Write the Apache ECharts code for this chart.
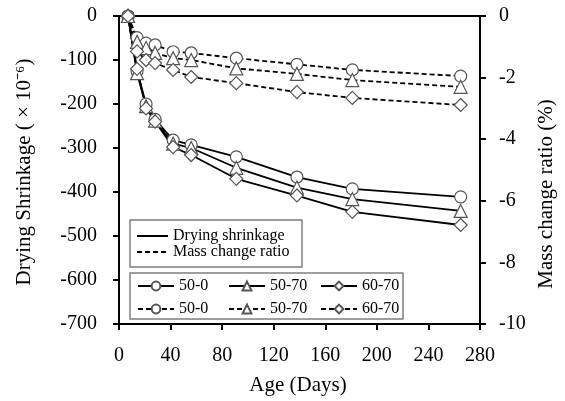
<!DOCTYPE html>
<html>
<head>
<meta charset="utf-8">
<script src="https://cdn.jsdelivr.net/npm/echarts@6/dist/echarts.min.js"></script>
<style>
  html, body { margin: 0; padding: 0; background: #fff; }
  #chart { width: 565px; height: 401px; }
</style>
</head>
<body>
<div id="chart"></div>
<script>
// Age at each measurement (days)
const days = [7, 14, 21, 28, 42, 56, 91, 138, 181, 265];

// Drying shrinkage (x10^-6)
const shrink_50_0  = [0, -125, -200, -235, -282, -293, -320, -366, -393, -411];
const shrink_50_70 = [0, -130, -205, -238, -290, -300, -345, -390, -416, -443];
const shrink_60_70 = [0, -120, -210, -240, -298, -316, -370, -408, -445, -475];

// Mass change ratio (%)
const mass_50_0  = [0, -0.70, -0.88, -0.94, -1.16, -1.20, -1.37, -1.57, -1.75, -1.95];
const mass_50_70 = [0, -0.84, -1.04, -1.20, -1.37, -1.43, -1.70, -1.88, -2.08, -2.30];
const mass_60_70 = [0, -1.15, -1.43, -1.53, -1.75, -1.98, -2.18, -2.47, -2.66, -2.89];

const mixLabels = ['50-0', '50-70', '60-70'];
const symbols = ['circle', 'triangle', 'diamond'];
const symbolSizes = [12, 13, 13];

const FONT = "'Liberation Serif', 'Times New Roman', serif";
const pairs = (ys) => days.map((d, i) => [d, ys[i]]);

const shrinkSets = [shrink_50_0, shrink_50_70, shrink_60_70];
const massSets = [mass_50_0, mass_50_70, mass_60_70];

const markerStyle = { color: '#fff', borderColor: '#555', borderWidth: 1.2 };

const series = [];
// Line-style key entries (no data points)
series.push({
  name: 'Drying shrinkage', type: 'line', data: [], symbol: 'none',
  lineStyle: { color: '#000', width: 2, type: 'solid' }
});
series.push({
  name: 'Mass change ratio', type: 'line', data: [], symbol: 'none',
  lineStyle: { color: '#000', width: 2, type: [5, 3] }
});
mixLabels.forEach((lab, k) => {
  series.push({
    name: 'S ' + lab, type: 'line', yAxisIndex: 0,
    data: pairs(shrinkSets[k]),
    symbol: symbols[k], symbolSize: symbolSizes[k],
    lineStyle: { color: '#000', width: 1.8 },
    itemStyle: markerStyle, z: 3
  });
});
mixLabels.forEach((lab, k) => {
  series.push({
    name: 'M ' + lab, type: 'line', yAxisIndex: 1,
    data: pairs(massSets[k]),
    symbol: symbols[k], symbolSize: symbolSizes[k],
    lineStyle: { color: '#000', width: 1.8, type: [5, 3] },
    itemStyle: markerStyle, z: 3
  });
});

const hidden = { color: 'rgba(0,0,0,0)', borderColor: 'rgba(0,0,0,0)' };
const legendText = { fontFamily: FONT, fontSize: 16, color: '#000' };
const stripTag = (n) => n.replace(/^[SM] /, '');

const legends = [
  {
    orient: 'vertical', left: 136, top: 228, padding: 0, itemGap: 0,
    itemWidth: 31, itemHeight: 11, textStyle: legendText,
    data: [
      { name: 'Drying shrinkage', itemStyle: hidden },
      { name: 'Mass change ratio', itemStyle: hidden }
    ]
  }
];
const colLeft = [137, 228, 320];
mixLabels.forEach((lab, k) => {
  legends.push({
    orient: 'vertical', left: colLeft[k], top: 278, padding: 0, itemGap: 7,
    itemWidth: 36, itemHeight: 11, textStyle: legendText,
    formatter: stripTag,
    data: ['S ' + lab, 'M ' + lab]
  });
});

const axisLine = { show: true, onZero: false, lineStyle: { color: '#000', width: 2 } };
const axisTick = { show: true, inside: false, length: 6, lineStyle: { color: '#000', width: 2 } };
const tickLabel = { fontFamily: FONT, fontSize: 20, color: '#000' };

const chart = echarts.init(document.getElementById('chart'), null, { renderer: 'canvas' });
chart.setOption({
  animation: false,
  backgroundColor: '#fff',
  grid: { left: 119, right: 85, top: 16, bottom: 77, show: true, borderColor: '#000', borderWidth: 2 },
  legend: legends,
  xAxis: {
    type: 'value', min: 0, max: 280, interval: 40,
    axisLine, axisTick, splitLine: { show: false },
    axisLabel: Object.assign({ margin: 22 }, tickLabel)
  },
  yAxis: [
    {
      type: 'value', min: -700, max: 0, interval: 100, position: 'left',
      axisLine, axisTick, splitLine: { show: false },
      axisLabel: Object.assign({ margin: 22 }, tickLabel)
    },
    {
      type: 'value', min: -10, max: 0, interval: 2, position: 'right',
      axisLine, axisTick, splitLine: { show: false },
      axisLabel: Object.assign({ margin: 19 }, tickLabel)
    }
  ],
  graphic: [
    { type: 'rect', shape: { x: 130, y: 220, width: 172, height: 47 },
      style: { fill: 'none', stroke: '#7f7f7f', lineWidth: 1.5 }, z: 1 },
    { type: 'rect', shape: { x: 130, y: 273, width: 273, height: 46 },
      style: { fill: 'none', stroke: '#7f7f7f', lineWidth: 1.5 }, z: 1 },
    { type: 'text', x: 24, y: 172, rotation: Math.PI / 2,
      style: { text: 'Drying Shrinkage ( × 10⁻⁶)', font: '21px ' + FONT, fill: '#000',
               align: 'center', verticalAlign: 'middle' } },
    { type: 'text', x: 546, y: 194, rotation: Math.PI / 2,
      style: { text: 'Mass change ratio (%)', font: '21px ' + FONT, fill: '#000',
               align: 'center', verticalAlign: 'middle' } },
    { type: 'text', x: 298, y: 385,
      style: { text: 'Age (Days)', font: '21px ' + FONT, fill: '#000',
               align: 'center', verticalAlign: 'middle' } }
  ],
  series
});
</script>
</body>
</html>
